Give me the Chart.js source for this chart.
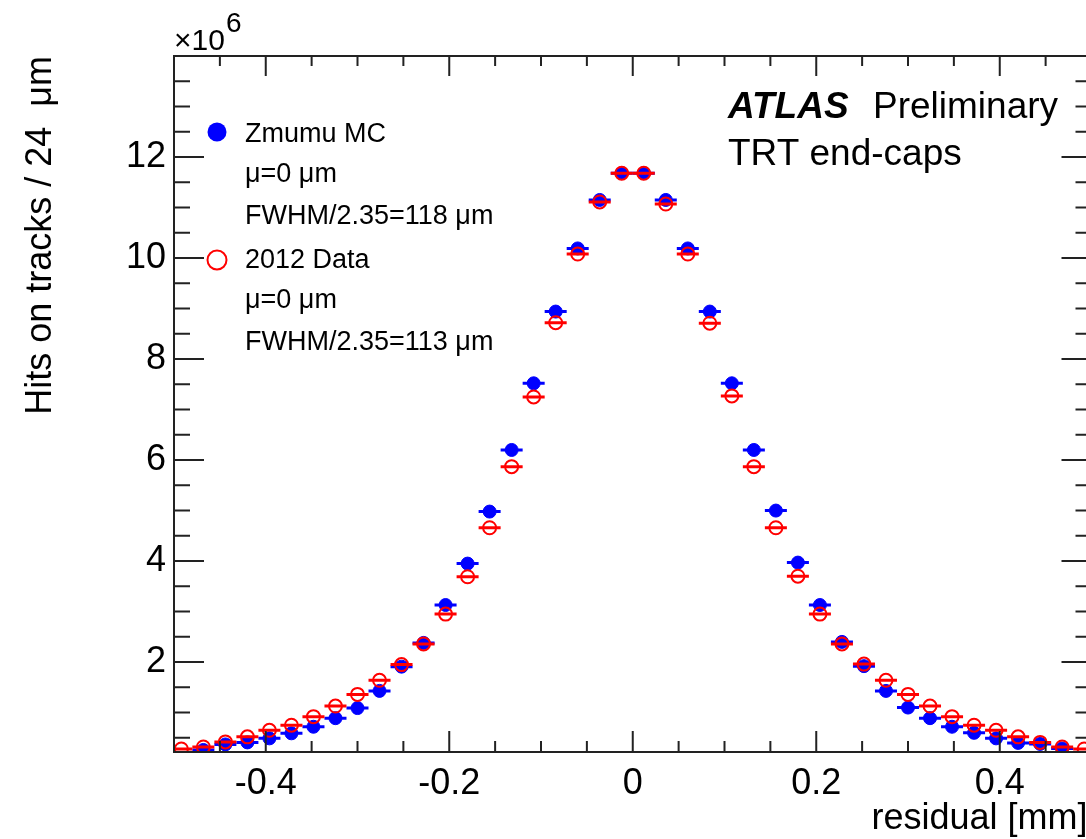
<!DOCTYPE html>
<html>
<head>
<meta charset="utf-8">
<script src="https://cdn.jsdelivr.net/npm/chart.js@4.4.0/dist/chart.umd.min.js"></script>
<style>
  html, body { margin: 0; padding: 0; background: #fff; overflow: hidden; }
  #wrap { width: 1100px; height: 839px; }
</style>
</head>
<body>
<div id="wrap"><canvas id="residuals" width="1100" height="839"></canvas></div>
<script>
// bin centres in mm (24 um bins)
const binCentres = [
  -0.492, -0.468, -0.444, -0.420, -0.396, -0.372, -0.348, -0.324, -0.300, -0.276, -0.252,
  -0.228, -0.204, -0.180, -0.156, -0.132, -0.108, -0.084, -0.060, -0.036, -0.012,
  0.012, 0.036, 0.060, 0.084, 0.108, 0.132, 0.156, 0.180, 0.204, 0.228,
  0.252, 0.276, 0.300, 0.324, 0.348, 0.372, 0.396, 0.420, 0.444, 0.468, 0.492
];
// hits on tracks, x10^6
const mcHits = [
  null, 0.26, 0.37, 0.41, 0.49, 0.59, 0.72, 0.89, 1.09, 1.43, 1.91,
  2.38, 3.13, 3.95, 4.98, 6.20, 7.52, 8.94, 10.19, 11.15, 11.68,
  11.68, 11.15, 10.19, 8.94, 7.52, 6.20, 5.00, 3.97, 3.13, 2.40,
  1.92, 1.43, 1.10, 0.89, 0.72, 0.60, 0.49, 0.40, 0.38, 0.29, null
];
const dataHits = [
  0.28, 0.32, 0.42, 0.52, 0.65, 0.75, 0.92, 1.13, 1.36, 1.64, 1.95,
  2.36, 2.95, 3.69, 4.66, 5.87, 7.25, 8.72, 10.08, 11.11, 11.68,
  11.68, 11.07, 10.08, 8.71, 7.27, 5.87, 4.66, 3.70, 2.95, 2.36,
  1.96, 1.64, 1.36, 1.13, 0.92, 0.75, 0.65, 0.52, 0.41, 0.32, 0.28
];
const binWidth = 0.024;

const xTickLabels = [-0.4, -0.2, 0, 0.2, 0.4];
const yTickLabels = [2, 4, 6, 8, 10, 12];

const seriesNames = ['Zmumu MC', '2012 Data'];
const meanTexts = ['\u03bc=0 \u03bcm', '\u03bc=0 \u03bcm'];
const widthTexts = ['FWHM/2.35=118 \u03bcm', 'FWHM/2.35=113 \u03bcm'];

const FONT = '"Liberation Sans", Arial, sans-serif';
const BLUE = '#0000ff';
const RED = '#ff0000';

// horizontal bin-width bars, drawn just before each dataset's markers
const binBars = {
  id: 'binBars',
  beforeDatasetDraw(chart, args) {
    const ds = chart.data.datasets[args.index];
    const xs = chart.scales.x;
    const area = chart.chartArea;
    const ctx = chart.ctx;
    ctx.save();
    ctx.beginPath();
    ctx.rect(area.left, area.top, area.right - area.left, area.bottom - area.top);
    ctx.clip();
    ctx.strokeStyle = ds.borderColor;
    ctx.lineWidth = 3;
    args.meta.data.forEach((pt, i) => {
      const d = ds.data[i];
      if (d.y === null) return;
      ctx.beginPath();
      ctx.moveTo(xs.getPixelForValue(d.x - binWidth / 2), pt.y);
      ctx.lineTo(xs.getPixelForValue(d.x + binWidth / 2), pt.y);
      ctx.stroke();
    });
    ctx.restore();
  }
};

// ROOT style frame with inward ticks on all four sides
const rootFrame = {
  id: 'rootFrame',
  afterDatasetsDraw(chart) {
    const ctx = chart.ctx;
    const a = chart.chartArea;
    const xs = chart.scales.x;
    const ys = chart.scales.y;
    ctx.save();
    ctx.strokeStyle = '#222';
    ctx.lineWidth = 2;
    ctx.strokeRect(a.left, a.top, a.right - a.left, a.bottom - a.top);

    ctx.beginPath();
    for (let i = -10; i <= 10; i++) {
      const v = i * 0.05;
      const px = xs.getPixelForValue(v);
      const major = i % 4 === 0;
      ctx.moveTo(px, a.bottom);
      ctx.lineTo(px, a.bottom - (major ? 21 : 11));
      ctx.moveTo(px, a.top);
      ctx.lineTo(px, a.top + (major ? 20 : 10));
    }
    for (let i = 1; i <= 28; i++) {
      const v = i * 0.5;
      if (v < ys.min) continue;
      const py = ys.getPixelForValue(v);
      const major = i % 4 === 0;
      ctx.moveTo(a.left, py);
      ctx.lineTo(a.left + (major ? 30 : 16), py);
      ctx.moveTo(a.right, py);
      ctx.lineTo(a.right - (major ? 30 : 16), py);
    }
    ctx.stroke();
    ctx.restore();
  }
};

const annotations = {
  id: 'annotations',
  afterDraw(chart) {
    const ctx = chart.ctx;
    const a = chart.chartArea;
    ctx.save();
    ctx.fillStyle = '#000';
    ctx.textBaseline = 'alphabetic';
    ctx.textAlign = 'left';

    // axis multiplier
    ctx.font = '30px ' + FONT;
    ctx.fillText('\u00d710', a.left, 50);
    ctx.font = '28px ' + FONT;
    ctx.fillText('6', a.left + 52, 32);

    // experiment label
    ctx.font = 'italic bold 37px ' + FONT;
    ctx.fillText('ATLAS', 728, 118);
    ctx.font = '37px ' + FONT;
    ctx.fillText('Preliminary', 873, 118);
    ctx.fillText('TRT end-caps', 728, 165);

    // legend
    ctx.font = '27px ' + FONT;
    const rows = [141.5, 181.5, 224, 268, 308, 350];
    for (let k = 0; k < 2; k++) {
      ctx.fillText(seriesNames[k], 245, rows[3 * k]);
      ctx.fillText(meanTexts[k], 245, rows[3 * k + 1]);
      ctx.fillText(widthTexts[k], 245, rows[3 * k + 2]);
    }
    ctx.beginPath();
    ctx.arc(217, 132, 9.5, 0, Math.PI * 2);
    ctx.fillStyle = BLUE;
    ctx.fill();
    ctx.beginPath();
    ctx.arc(217, 260, 9.5, 0, Math.PI * 2);
    ctx.strokeStyle = RED;
    ctx.lineWidth = 2;
    ctx.stroke();

    // axis titles
    ctx.fillStyle = '#000';
    ctx.font = '36px ' + FONT;
    ctx.textAlign = 'right';
    ctx.fillText('residual [mm]', a.right - 4, 829);
    ctx.save();
    ctx.translate(51, a.top);
    ctx.rotate(-Math.PI / 2);
    ctx.fillText('Hits on tracks / 24  \u03bcm', 0, 0);
    ctx.restore();
    ctx.restore();
  }
};

const chartArea = { left: 174, top: 56, right: 1092, bottom: 752 };

new Chart(document.getElementById('residuals'), {
  type: 'scatter',
  data: {
    datasets: [
      {
        label: seriesNames[1],
        data: dataHits.map((y, i) => ({ x: binCentres[i], y: y })),
        borderColor: RED,
        backgroundColor: 'rgba(255,255,255,0)',
        pointRadius: 6.5,
        pointBorderWidth: 2,
        order: 0,
        clip: 0
      },
      {
        label: seriesNames[0],
        data: mcHits.map((y, i) => ({ x: binCentres[i], y: y })),
        borderColor: BLUE,
        backgroundColor: BLUE,
        pointRadius: 6.5,
        pointBorderWidth: 1,
        order: 1,
        clip: 0
      }
    ]
  },
  options: {
    responsive: false,
    devicePixelRatio: 1,
    animation: false,
    events: [],
    layout: {
      padding: { left: 0, top: chartArea.top, right: 1100 - chartArea.right, bottom: 0 }
    },
    plugins: {
      legend: { display: false },
      tooltip: { enabled: false }
    },
    scales: {
      x: {
        type: 'linear',
        min: -0.5,
        max: 0.5,
        afterBuildTicks: s => { s.ticks = xTickLabels.map(v => ({ value: v })); },
        afterFit: s => { s.height = 839 - chartArea.bottom; },
        grid: { display: false, drawTicks: false },
        border: { display: false },
        ticks: {
          color: '#000',
          font: { family: FONT, size: 36 },
          padding: 10,
          maxRotation: 0,
          autoSkip: false,
          callback: v => String(Math.round(v * 10) / 10)
        }
      },
      y: {
        type: 'linear',
        min: 0.22,
        max: 14,
        afterBuildTicks: s => { s.ticks = yTickLabels.map(v => ({ value: v })); },
        afterFit: s => { s.width = chartArea.left; },
        grid: { display: false, drawTicks: false },
        border: { display: false },
        ticks: {
          color: '#000',
          font: { family: FONT, size: 36 },
          padding: 8,
          autoSkip: false,
          callback: v => String(v)
        }
      }
    }
  },
  plugins: [binBars, rootFrame, annotations]
});
</script>
</body>
</html>
